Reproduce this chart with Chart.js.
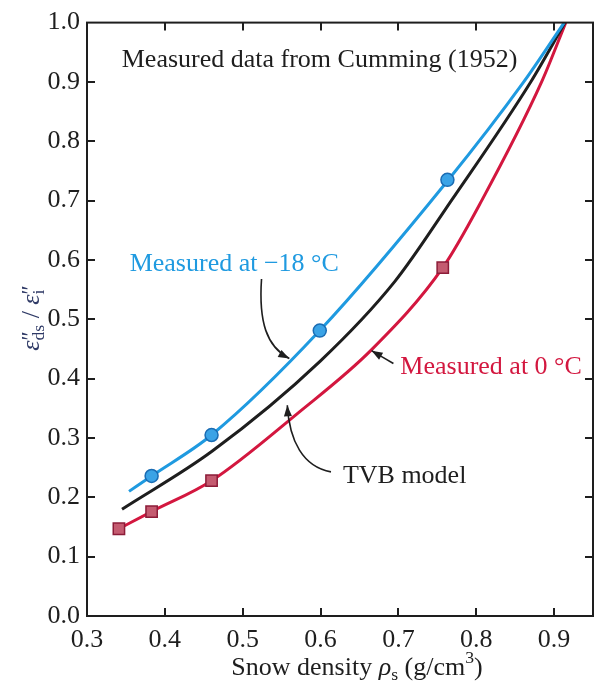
<!DOCTYPE html>
<html>
<head>
<meta charset="utf-8">
<script src="https://cdn.jsdelivr.net/npm/chart.js@4.4.1/dist/chart.umd.min.js"></script>
<style>
  html, body { margin: 0; padding: 0; background: #fff; }
  #wrap { width: 608px; height: 688px; }
</style>
</head>
<body>
<div id="wrap"><canvas id="snowChart" width="608" height="688"></canvas></div>
<script>
// ---------- data ----------
// measured points, Cumming (1952)
var coldX = [0.383, 0.460, 0.599, 0.763];
var coldY = [0.236, 0.305, 0.481, 0.735];
var warmX = [0.341, 0.383, 0.460, 0.757];
var warmY = [0.147, 0.176, 0.228, 0.587];

// fitted curves
var coldCurveX = [0.354, 0.383, 0.460, 0.599, 0.763, 0.861, 0.913];
var coldCurveY = [0.210, 0.236, 0.305, 0.481, 0.733, 0.900, 1.000];
var tvbCurveX = [0.345, 0.461, 0.600, 0.695, 0.768, 0.870, 0.914];
var tvbCurveY = [0.180, 0.278, 0.430, 0.563, 0.700, 0.900, 1.000];
var warmCurveX = [0.341, 0.383, 0.460, 0.571, 0.665, 0.757, 0.807, 0.884, 0.915];
var warmCurveY = [0.147, 0.176, 0.228, 0.342, 0.448, 0.587, 0.700, 0.900, 1.000];

var xTicks = [0.3, 0.4, 0.5, 0.6, 0.7, 0.8, 0.9];
var yTicks = [0.0, 0.1, 0.2, 0.3, 0.4, 0.5, 0.6, 0.7, 0.8, 0.9, 1.0];

var BLUE = '#1f9ae0';
var RED = '#d3173f';
var INK = '#1e1e1e';
var SERIF = '"Liberation Serif", "Times New Roman", serif';

function pts(xs, ys) {
  return xs.map(function (x, i) { return { x: x, y: ys[i] }; });
}
function font(size, italic) {
  return (italic ? 'italic ' : '') + size + 'px ' + SERIF;
}

// ---------- text with sub/superscripts ----------
// run: { t, it (italic), sub, sup, pr (prime), back (start at previous run's x) }
function layoutRuns(ctx, runs, size) {
  var x = 0, prevStart = 0, prevEnd = 0, out = [];
  runs.forEach(function (r) {
    var s = (r.sub || r.sup) ? size * 0.68 : (r.pr ? size * 0.85 : size);
    ctx.font = font(s, r.it);
    var w = ctx.measureText(r.t).width;
    var start = r.back ? prevStart : x;
    var dy = r.sub ? size * 0.28 : (r.sup ? -size * 0.38 : (r.pr ? -size * 0.05 : 0));
    out.push({ t: r.t, f: ctx.font, x: start, dy: dy });
    var end = start + w;
    x = r.back ? Math.max(prevEnd, end) : end;
    prevStart = start;
    prevEnd = x;
  });
  return { items: out, width: x };
}
function drawRuns(ctx, runs, size, cx, cy, color) {
  var lay = layoutRuns(ctx, runs, size);
  ctx.fillStyle = color;
  ctx.textBaseline = 'middle';
  ctx.textAlign = 'left';
  lay.items.forEach(function (it) {
    ctx.font = it.f;
    ctx.fillText(it.t, cx - lay.width / 2 + it.x, cy + it.dy);
  });
}

var xTitleRuns = [
  { t: 'Snow density ' }, { t: 'ρ', it: true }, { t: 's', sub: true },
  { t: ' (g/cm' }, { t: '3', sup: true }, { t: ')' }
];
var yTitleRuns = [
  { t: 'ε', it: true }, { t: '″', pr: true }, { t: 'ds', sub: true, back: true },
  { t: ' / ' },
  { t: 'ε', it: true }, { t: '″', pr: true }, { t: 'i', sub: true, back: true }
];

// annotations in data units
var notes = [
  { text: 'Measured data from Cumming (1952)', x: 0.3446, y: 0.936, color: INK },
  { text: 'Measured at \u221218 \u00b0C', x: 0.3548, y: 0.593, color: BLUE },
  { text: 'Measured at 0 \u00b0C', x: 0.7025, y: 0.420, color: RED },
  { text: 'TVB model', x: 0.6287, y: 0.236, color: INK }
];
var arrows = [
  [[0.5242, 0.5678], [0.5204, 0.4958], [0.5306, 0.4539], [0.5599, 0.4338]],
  [[0.6936, 0.4255], [0.6866, 0.4309], [0.6726, 0.4418], [0.6656, 0.4472]],
  [[0.6134, 0.2429], [0.5777, 0.2513], [0.5599, 0.2948], [0.5573, 0.3551]]
];

// ---------- frame, inward ticks, labels ----------
var framePlugin = {
  id: 'frame',
  afterDraw: function (chart) {
    var ctx = chart.ctx, a = chart.chartArea;
    var sx = chart.scales.x, sy = chart.scales.y;
    var len = 8;
    ctx.save();
    ctx.strokeStyle = INK;
    ctx.lineWidth = 2;
    ctx.strokeRect(a.left, a.top, a.right - a.left, a.bottom - a.top);
    ctx.beginPath();
    xTicks.slice(1).forEach(function (v) {
      var px = Math.round(sx.getPixelForValue(v));
      ctx.moveTo(px, a.bottom); ctx.lineTo(px, a.bottom - len);
      ctx.moveTo(px, a.top); ctx.lineTo(px, a.top + len);
    });
    yTicks.slice(1, -1).forEach(function (v) {
      var py = Math.round(sy.getPixelForValue(v));
      ctx.moveTo(a.left, py); ctx.lineTo(a.left + len, py);
      ctx.moveTo(a.right, py); ctx.lineTo(a.right - len, py);
    });
    ctx.stroke();

    // axis titles
    drawRuns(ctx, xTitleRuns, 26, 357, 668, INK);
    ctx.translate(32, 318);
    ctx.rotate(-Math.PI / 2);
    drawRuns(ctx, yTitleRuns, 26, 0, 0, '#2f3a66');
    ctx.restore();
  }
};

var notesPlugin = {
  id: 'notes',
  afterDraw: function (chart) {
    var ctx = chart.ctx, sx = chart.scales.x, sy = chart.scales.y;
    ctx.save();
    ctx.font = font(26, false);
    ctx.textBaseline = 'middle';
    ctx.textAlign = 'left';
    notes.forEach(function (n) {
      ctx.fillStyle = n.color;
      ctx.fillText(n.text, sx.getPixelForValue(n.x), sy.getPixelForValue(n.y));
    });
    ctx.strokeStyle = INK;
    ctx.fillStyle = INK;
    ctx.lineWidth = 1.6;
    arrows.forEach(function (ar) {
      var p = ar.map(function (q) { return [sx.getPixelForValue(q[0]), sy.getPixelForValue(q[1])]; });
      ctx.beginPath();
      ctx.moveTo(p[0][0], p[0][1]);
      ctx.bezierCurveTo(p[1][0], p[1][1], p[2][0], p[2][1], p[3][0], p[3][1]);
      ctx.stroke();
      var ang = Math.atan2(p[3][1] - p[2][1], p[3][0] - p[2][0]);
      var L = 11, W = 4;
      ctx.beginPath();
      ctx.moveTo(p[3][0], p[3][1]);
      ctx.lineTo(p[3][0] - L * Math.cos(ang) + W * Math.sin(ang), p[3][1] - L * Math.sin(ang) - W * Math.cos(ang));
      ctx.lineTo(p[3][0] - L * Math.cos(ang) - W * Math.sin(ang), p[3][1] - L * Math.sin(ang) + W * Math.cos(ang));
      ctx.closePath();
      ctx.fill();
    });
    ctx.restore();
  }
};

function curve(xs, ys, color, order) {
  return {
    data: pts(xs, ys), showLine: true, borderColor: color, borderWidth: 3,
    pointRadius: 0, cubicInterpolationMode: 'monotone', fill: false, order: order
  };
}

new Chart(document.getElementById('snowChart'), {
  type: 'scatter',
  data: {
    datasets: [
      {
        data: pts(coldX, coldY), pointStyle: 'circle', pointRadius: 6.5,
        backgroundColor: '#3aa3e6', borderColor: '#1a6cb3', borderWidth: 1.5, order: 0
      },
      {
        data: pts(warmX, warmY), pointStyle: 'rect', pointRadius: 8,
        backgroundColor: '#c45b70', borderColor: '#8c1c38', borderWidth: 1.5, order: 0
      },
      curve(coldCurveX, coldCurveY, BLUE, 1),
      curve(tvbCurveX, tvbCurveY, INK, 2),
      curve(warmCurveX, warmCurveY, RED, 3)
    ]
  },
  options: {
    responsive: false,
    animation: false,
    layout: { padding: { top: 19, right: 15, left: 0, bottom: 0 } },
    plugins: { legend: { display: false }, tooltip: { enabled: false } },
    scales: {
      x: {
        type: 'linear', min: 0.3, max: 0.95,
        grid: { display: false, drawTicks: false },
        border: { display: false },
        afterBuildTicks: function (s) { s.ticks = xTicks.map(function (v) { return { value: v }; }); },
        afterFit: function (s) { s.height = 72; },
        ticks: {
          autoSkip: false, maxRotation: 0, padding: 9, color: INK,
          font: { family: SERIF, size: 26 },
          callback: function (v) { return Number(v).toFixed(1); }
        }
      },
      y: {
        type: 'linear', min: 0, max: 1,
        grid: { display: false, drawTicks: false },
        border: { display: false },
        afterBuildTicks: function (s) { s.ticks = yTicks.map(function (v) { return { value: v }; }); },
        afterFit: function (s) { s.width = 87; },
        ticks: {
          autoSkip: false, padding: 7, color: INK,
          font: { family: SERIF, size: 26 },
          callback: function (v) { return Number(v).toFixed(1); }
        }
      }
    }
  },
  plugins: [framePlugin, notesPlugin]
});
</script>
</body>
</html>
